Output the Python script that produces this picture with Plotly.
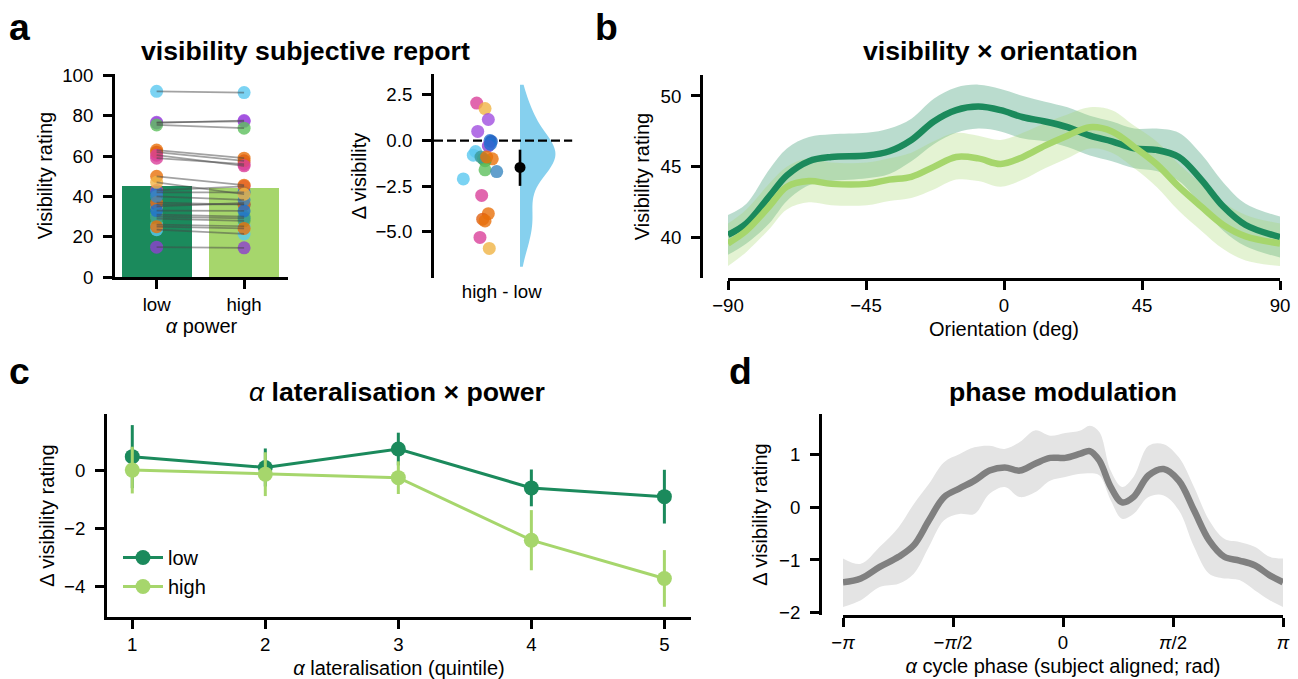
import math
import plotly.graph_objects as go

W, H = 1298, 679
FONT = "Liberation Sans, Arial, sans-serif"
DARK = "#1b8a5c"
LIGHT = "#a6d66c"
SKY = "#86d0ee"

# ---------------- panel a : visibility subjective report ----------------
power_cats = ["low", "high"]
bar_means = [45.4, 44.0]
subj_low = [43, 35, 76.5, 76.8, 42, 36, 14.8, 92.2, 26, 37, 31, 29, 75.5, 40, 23.5,
            59, 63, 62, 50, 60.5, 47, 30, 25, 33]
subj_high = [45.0, 36.8, 77.7, 77.3, 42.0, 36.0, 14.5, 91.6, 25.2, 36.0, 30.0, 27.9, 73.9, 38.3, 21.4,
             56.0, 59.0, 57.7, 45.6, 55.2, 41.1, 29.1, 24.1, 32.8]
subj_delta = [2.05, 1.75, 1.15, 0.5, 0.0, -0.05, -0.3, -0.6, -0.8, -1.0, -1.0, -1.1, -1.6, -1.7, -2.1,
              -3.0, -4.0, -4.3, -4.4, -5.3, -5.9, -0.9, -0.9, -0.2]
subj_jitter = [-0.046, 0.043, 0.078, -0.035, 0.096, 0.11, 0.078, -0.057, -0.082, 0.12, 0.025, 0.043, 0.043,
               0.167, -0.188, 0.007, 0.078, 0.018, 0.043, -0.011, 0.088, 0.0, 0.06, 0.1]
subj_color = ["#d9409a", "#f0b445", "#a04ee0", "#a04ee0", "#1f70d0", "#1f5fbf", "#8e3fd0", "#5ac8f0",
              "#5ac8f0", "#e8700a", "#5cbf5c", "#4caf50", "#5cbf5c", "#3a87c0", "#5ac8f0", "#d9409a",
              "#e8700a", "#e06010", "#e8700a", "#d9409a", "#f0b445", "#3a9a9a", "#e8700a", "#1f70d0"]
delta_mean = [-1.47]
delta_ci_up = [0.97]
delta_ci_down = [1.01]
delta_span = [-6.9, 3.05]

# ---------------- panel b : visibility x orientation ----------------
orient = [-90, -84, -76.6, -70.8, -63.6, -56.3, -44.7, -37.4, -30.2, -22.9, -15.6, -8.4, -1.1,
          6.2, 13.4, 20.7, 28.0, 35.2, 42.5, 49.7, 57.0, 64.3, 71.5, 78.8, 90]
b_low = [40.2, 41.0, 42.9, 44.4, 45.4, 45.7, 45.8, 46.1, 46.9, 48.2, 49.0, 49.25, 49.0,
         48.5, 48.2, 47.8, 47.2, 46.8, 46.3, 46.2, 45.7, 44.1, 42.2, 40.9, 40.05]
b_low_up = [41.6, 42.4, 44.8, 46.3, 47.1, 47.3, 47.4, 47.7, 48.4, 49.8, 50.6, 50.8, 50.5,
            50.0, 49.6, 49.2, 48.6, 48.2, 47.7, 47.7, 47.4, 45.9, 43.9, 42.4, 41.5]
b_low_lo = [38.8, 39.6, 41.0, 42.6, 43.7, 44.0, 44.2, 44.5, 45.4, 46.6, 47.4, 47.7, 47.5,
            47.0, 46.8, 46.4, 45.8, 45.4, 44.9, 44.7, 44.0, 42.3, 40.5, 39.4, 38.6]
b_high = [39.6, 40.5, 42.2, 43.6, 44.0, 43.8, 43.8, 44.1, 44.3, 45.0, 45.7, 45.6, 45.2,
          45.7, 46.5, 47.2, 47.8, 47.5, 46.4, 45.2, 43.6, 42.2, 40.9, 40.1, 39.6]
b_high_up = [41.0, 42.0, 43.8, 45.0, 45.6, 45.3, 45.3, 45.6, 46.0, 46.8, 47.4, 47.2, 46.9,
             47.4, 48.1, 48.7, 49.2, 49.0, 47.9, 46.8, 45.2, 43.8, 42.5, 41.6, 41.0]
b_high_lo = [38.0, 39.0, 40.6, 42.0, 42.5, 42.3, 42.3, 42.6, 42.8, 43.4, 44.1, 44.0, 43.6,
             44.1, 44.9, 45.6, 46.3, 46.0, 44.9, 43.6, 41.9, 40.5, 39.2, 38.4, 38.0]

# ---------------- panel c : alpha lateralisation x power ----------------
quintile = [1, 2, 3, 4, 5]
c_low = [0.46, 0.09, 0.72, -0.61, -0.91]
c_low_err = [1.08, 0.65, 0.56, 0.63, 0.92]
c_high = [0.0, -0.14, -0.26, -2.40, -3.71]
c_high_err = [0.80, 0.75, 0.56, 1.03, 0.97]

# ---------------- panel d : phase modulation ----------------
phase = [-3.1416, -2.887, -2.617, -2.347, -2.130, -1.914, -1.698, -1.482, -1.265, -1.049, -0.833,
         -0.617, -0.400, -0.184, 0.032, 0.249, 0.384, 0.519, 0.681, 0.843, 1.006, 1.222, 1.438,
         1.654, 1.871, 2.087, 2.303, 2.519, 2.736, 2.952, 3.1416]
d_mean = [-1.42, -1.35, -1.13, -0.94, -0.72, -0.25, 0.19, 0.35, 0.50, 0.69, 0.75, 0.69, 0.82,
          0.93, 0.93, 1.01, 1.06, 0.88, 0.38, 0.09, 0.19, 0.60, 0.72, 0.50, -0.06, -0.63, -0.94,
          -1.01, -1.10, -1.29, -1.42]
d_up = [-0.97, -1.07, -0.75, -0.38, 0.06, 0.44, 0.85, 1.00, 1.13, 1.16, 1.10, 1.23, 1.45, 1.35,
        1.40, 1.45, 1.54, 1.42, 0.69, 0.38, 0.57, 1.16, 1.19, 0.94, 0.38, -0.25, -0.60, -0.66,
        -0.75, -0.94, -0.97]
d_lo = [-1.89, -1.76, -1.51, -1.45, -1.26, -0.75, -0.25, -0.13, -0.13, 0.25, 0.38, 0.19, 0.28,
        0.50, 0.57, 0.63, 0.64, 0.60, 0.13, -0.22, -0.13, 0.19, 0.22, -0.06, -0.75, -1.26, -1.35,
        -1.38, -1.57, -1.76, -1.89]

fig = go.Figure()

# ---- panel a1
fig.add_trace(go.Bar(x=[0, 1], y=bar_means, width=0.8, marker=dict(color=[DARK, LIGHT], line_width=0),
                     xaxis="x", yaxis="y", showlegend=False))
fig.add_trace(go.Scatter(x=[0] * len(subj_low) + [1] * len(subj_high), y=subj_low + subj_high,
                         mode="markers", marker=dict(color=subj_color + subj_color, size=13, opacity=0.8,
                                                     line_width=0),
                         xaxis="x", yaxis="y", showlegend=False))
lx, ly = [], []
for a, b in zip(subj_low, subj_high):
    lx += [0, 1, None]
    ly += [a, b, None]
fig.add_trace(go.Scatter(x=lx, y=ly, mode="lines", line=dict(color="rgba(70,70,70,0.5)", width=1.7),
                         xaxis="x", yaxis="y", showlegend=False))

# ---- panel a2
fig.add_trace(go.Scatter(x=[-0.5, 0.97], y=[0, 0], mode="lines",
                         line=dict(color="black", width=2.3, dash="9px,4px"),
                         xaxis="x2", yaxis="y2", showlegend=False))
fig.add_trace(go.Violin(y=subj_delta, x0=0.415, side="positive", width=0.75, points=False,
                        spanmode="manual", span=delta_span, fillcolor=SKY, line=dict(color=SKY, width=0),
                        opacity=1, box_visible=False, meanline_visible=False,
                        xaxis="x2", yaxis="y2", showlegend=False, hoverinfo="skip"))
fig.add_trace(go.Scatter(x=subj_jitter, y=subj_delta, mode="markers",
                         marker=dict(color=subj_color, size=13, opacity=0.8, line_width=0),
                         xaxis="x2", yaxis="y2", showlegend=False))
fig.add_trace(go.Scatter(x=[0.415], y=delta_mean, mode="markers",
                         marker=dict(color="black", size=11),
                         error_y=dict(type="data", symmetric=False, array=delta_ci_up,
                                      arrayminus=delta_ci_down, thickness=2.6, width=0, color="black"),
                         xaxis="x2", yaxis="y2", showlegend=False))

# ---- panel b
for mean, up, lo, col, fillc in [(b_low, b_low_up, b_low_lo, DARK, "rgba(27,138,92,0.3)"),
                                 (b_high, b_high_up, b_high_lo, LIGHT, "rgba(166,214,108,0.3)")]:
    fig.add_trace(go.Scatter(x=orient, y=lo, mode="lines", line=dict(width=0, shape="spline"),
                             xaxis="x3", yaxis="y3", showlegend=False, hoverinfo="skip"))
    fig.add_trace(go.Scatter(x=orient, y=up, mode="lines", line=dict(width=0, shape="spline"),
                             fill="tonexty", fillcolor=fillc,
                             xaxis="x3", yaxis="y3", showlegend=False, hoverinfo="skip"))
for mean, col in [(b_low, DARK), (b_high, LIGHT)]:
    fig.add_trace(go.Scatter(x=orient, y=mean, mode="lines", line=dict(width=6.5, color=col, shape="spline"),
                             xaxis="x3", yaxis="y3", showlegend=False))

# ---- panel c
for name, vals, errs, col in [("low", c_low, c_low_err, DARK), ("high", c_high, c_high_err, LIGHT)]:
    fig.add_trace(go.Scatter(x=quintile, y=vals, mode="lines+markers", name=name,
                             line=dict(color=col, width=3), marker=dict(color=col, size=15),
                             error_y=dict(type="data", array=errs, thickness=3, width=0, color=col),
                             xaxis="x4", yaxis="y4", showlegend=True))

# ---- panel d
fig.add_trace(go.Scatter(x=phase, y=d_lo, mode="lines", line=dict(width=0, shape="spline"),
                         xaxis="x5", yaxis="y5", showlegend=False, hoverinfo="skip"))
fig.add_trace(go.Scatter(x=phase, y=d_up, mode="lines", line=dict(width=0, shape="spline"),
                         fill="tonexty", fillcolor="#e4e4e4",
                         xaxis="x5", yaxis="y5", showlegend=False, hoverinfo="skip"))
fig.add_trace(go.Scatter(x=phase, y=d_mean, mode="lines", line=dict(width=6.5, color="#808080", shape="spline"),
                         xaxis="x5", yaxis="y5", showlegend=False))


def px_x(p):
    return p / W


def px_y(p):
    return 1 - p / H


TICKF = dict(family=FONT, size=18.67, color="black")
TITF = dict(family=FONT, size=20, color="black")


def ax(**kw):
    d = dict(showline=True, linewidth=3, linecolor="black", ticks="outside", ticklen=9, tickwidth=2.5,
             tickcolor="black", tickfont=TICKF, showgrid=False, zeroline=False, ticklabelstandoff=6,
             mirror=False, automargin=False)
    d.update(kw)
    return d


def xax(**kw):
    return ax(ticklabelstandoff=0, **kw)


pi = math.pi
fig.update_layout(
    template="none",
    width=W, height=H, autosize=False, margin=dict(l=0, r=0, t=0, b=0, pad=0),
    paper_bgcolor="white", plot_bgcolor="white", font=dict(family=FONT, color="black"),
    bargap=0,
    xaxis=xax(domain=[px_x(115), px_x(288)], anchor="y", range=[-0.476, 1.502], tickvals=[0, 1],
              ticktext=power_cats, title=dict(text="<i>α</i> power", font=TITF, standoff=5)),
    yaxis=ax(domain=[px_y(277), px_y(74)], anchor="x", range=[0, 100.8], tickvals=[0, 20, 40, 60, 80, 100],
             title=dict(text="Visibility rating", font=TITF, standoff=5)),
    xaxis2=xax(domain=[px_x(434), px_x(575)], anchor="y2", type="linear", range=[-0.5, 1.0], showline=False,
               ticks="", tickvals=[0.22], ticktext=["high - low"]),
    yaxis2=ax(domain=[px_y(278), px_y(74)], anchor="x2", range=[-7.52, 3.64], tickvals=[2.5, 0, -2.5, -5],
              ticktext=["2.5", "0.0", "−2.5", "−5.0"],
              title=dict(text="Δ visibility", font=TITF, standoff=4)),
    xaxis3=xax(domain=[px_x(728), px_x(1280)], anchor="y3", range=[-90, 90], tickvals=[-90, -45, 0, 45, 90],
               ticktext=["−90", "−45", "0", "45", "90"],
               title=dict(text="Orientation (deg)", font=TITF, standoff=7)),
    yaxis3=ax(domain=[px_y(278), px_y(75)], anchor="free", position=px_x(701), range=[37.16, 51.48],
              tickvals=[40, 45, 50], title=dict(text="Visibility rating", font=TITF, standoff=4)),
    xaxis4=xax(domain=[px_x(107), px_x(691)], anchor="y4", range=[0.81, 5.2], tickvals=quintile,
               title=dict(text="<i>α</i> lateralisation (quintile)", font=TITF, standoff=7)),
    yaxis4=ax(domain=[px_y(617), px_y(414)], anchor="x4", range=[-5.03, 1.92], tickvals=[0, -2, -4],
              ticktext=["0", "−2", "−4"],
              title=dict(text="Δ visibility rating", font=TITF, standoff=4)),
    xaxis5=xax(domain=[px_x(843), px_x(1283)], anchor="y5", range=[-pi, pi],
               tickvals=[-pi, -pi / 2, 0, pi / 2, pi],
               ticktext=["−<i>π</i>", "−<i>π</i>/2", "0", "<i>π</i>/2", "<i>π</i>"],
               title=dict(text="<i>α</i> cycle phase (subject aligned; rad)", font=TITF, standoff=7)),
    yaxis5=ax(domain=[px_y(615), px_y(414)], anchor="free", position=px_x(820), range=[-2.04, 1.76],
              tickvals=[-2, -1, 0, 1], ticktext=["−2", "−1", "0", "1"],
              title=dict(text="Δ visibility rating", font=TITF, standoff=4)),
    legend=dict(x=px_x(118), y=px_y(538), xanchor="left", yanchor="top", bgcolor="rgba(0,0,0,0)",
                font=dict(family=FONT, size=20, color="black"), tracegroupgap=0, itemwidth=40,
                traceorder="normal"),
)

annots = [
    ("a", 19, 27, 37.33), ("b", 606, 27, 37.33), ("c", 19, 371, 37.33), ("d", 740, 371, 37.33),
]
for t, x, y, s in annots:
    fig.add_annotation(text=f"<b>{t}</b>", x=px_x(x), y=px_y(y), xref="paper", yref="paper",
                       showarrow=False, font=dict(family=FONT, size=s, color="black"),
                       xanchor="center", yanchor="middle")
titles = [
    ("<b>visibility subjective report</b>", 305, 51),
    ("<b>visibility × orientation</b>", 1000, 51),
    ("<i>α</i><b> lateralisation × power</b>", 397, 392),
    ("<b>phase modulation</b>", 1063, 392),
]
for t, x, y in titles:
    fig.add_annotation(text=t, x=px_x(x), y=px_y(y), xref="paper", yref="paper", showarrow=False,
                       font=dict(family=FONT, size=26.67, color="black"), xanchor="center", yanchor="middle")

fig.write_html("out.html")
